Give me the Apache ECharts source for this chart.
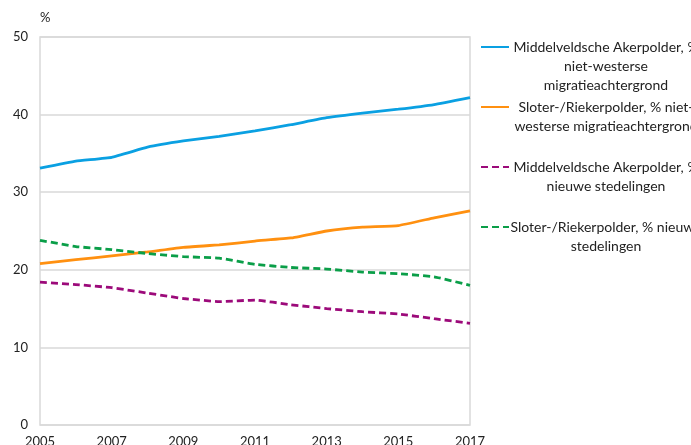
<!DOCTYPE html>
<html><head><meta charset="utf-8">
<script src="https://cdn.jsdelivr.net/npm/echarts@6/dist/echarts.min.js"></script>
<style>html,body{margin:0;padding:0;background:#fff}#c{width:691px;height:445px}</style>
</head><body><div id="c"></div>
<script>
const years = ['2005','2006','2007','2008','2009','2010','2011','2012','2013','2014','2015','2016','2017'];
const mapNwm = [33.1,34.0,34.5,35.8,36.6,37.2,37.9,38.7,39.6,40.2,40.7,41.3,42.2];
const srpNwm = [20.8,21.3,21.8,22.3,22.9,23.2,23.7,24.1,25.0,25.5,25.7,26.7,27.6];
const mapNs = [18.4,18.1,17.7,17.0,16.3,15.9,16.1,15.5,15.0,14.6,14.3,13.7,13.1];
const srpNs = [23.8,23.0,22.6,22.1,21.7,21.5,20.7,20.3,20.1,19.7,19.5,19.1,18.0];
const yTicks = [0,10,20,30,40,50];
const names = [
  'Middelveldsche Akerpolder, % niet-westerse migratieachtergrond',
  'Sloter-/Riekerpolder, % niet-westerse migratieachtergrond',
  'Middelveldsche Akerpolder, % nieuwe stedelingen',
  'Sloter-/Riekerpolder, % nieuwe stedelingen'
];
const legendLines = [
  ['Middelveldsche Akerpolder, %','niet-westerse','migratieachtergrond'],
  ['Sloter-/Riekerpolder, % niet-','westerse migratieachtergrond'],
  ['Middelveldsche Akerpolder, %','nieuwe stedelingen'],
  ['Sloter-/Riekerpolder, % nieuwe','stedelingen']
];
const colors = ['#0aa0e2','#ff9010','#9c0a7a','#0a9e48'];
const dashed = [false,false,true,true];
const values = [mapNwm, srpNwm, mapNs, srpNs];

const LH = 19;
const FONT = 'Lato';
const centers = [47,107,167,227];
const legends = names.map((n,i)=>{
  const lines = legendLines[i];
  const total = 2*lines.length-1;
  return {
    data:[n], orient:'vertical', left:480, top: centers[i]-total*LH/2, padding:0,
    itemWidth:28, itemHeight:14, itemGap:0,
    itemStyle:{opacity:0},
    textStyle:{fontFamily:FONT, fontSize:14, color:'#222', lineHeight:LH,
      rich:{c:{width:184, align:'center', fontFamily:FONT, fontSize:14, color:'#222', lineHeight:LH}}},
    formatter: () => {
      const blanks = [];
      for (let k=0;k<lines.length-1;k++) blanks.push('{c| }');
      return blanks.concat(lines.map(l=>'{c|'+l+'}')).join('\n');
    }
  };
});

const chart = echarts.init(document.getElementById('c'));
chart.setOption({
  animation:false,
  grid:{left:40, right:221, top:37, bottom:20, show:true, borderColor:'#d9d9d9', borderWidth:1.5,
    containLabel:false, outerBoundsMode:'none'},
  legend: legends,
  xAxis:{type:'category', data:years, boundaryGap:false,
    axisLine:{show:false}, axisTick:{show:false},
    axisLabel:{interval:1, color:'#222', fontFamily:FONT, fontSize:13, margin:10}},
  yAxis:{type:'value', min:yTicks[0], max:yTicks[yTicks.length-1], interval:10,
    name:'%', nameLocation:'end', nameGap:13,
    nameTextStyle:{align:'left', color:'#222', fontFamily:FONT, fontSize:13},
    axisLine:{show:false}, axisTick:{show:false},
    splitLine:{lineStyle:{color:'#d9d9d9', width:1.5}},
    axisLabel:{color:'#222', fontFamily:FONT, fontSize:13, margin:12}},
  series: names.map((n,i)=>({
    name:n, type:'line', data:values[i], symbol:'none', smooth:0.1,
    lineStyle:{color:colors[i], width:2.8, type: dashed[i]?[7,4]:'solid'},
    itemStyle:{color:colors[i]}
  }))
});
</script></body></html>
